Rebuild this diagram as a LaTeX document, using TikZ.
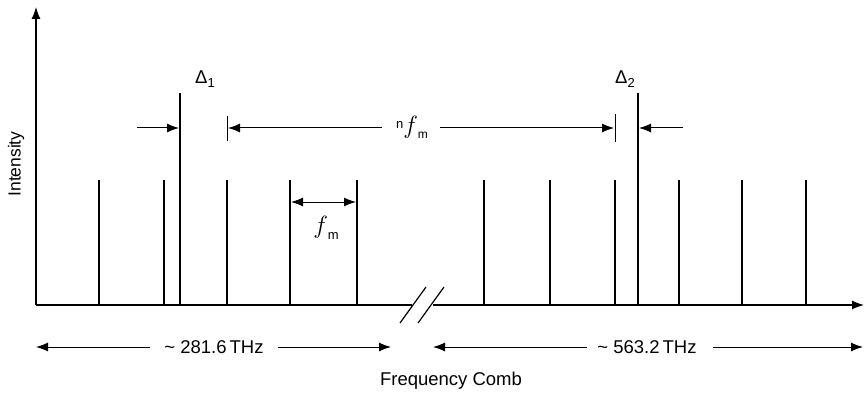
\documentclass[tikz,border=0pt]{standalone}
\usepackage{fontspec}
\setmainfont{Liberation Sans}
\usetikzlibrary{arrows.meta}
\begin{document}
\begin{tikzpicture}[x=1pt,y=-1pt,
  tooth/.style={line width=1.2pt},
  axis/.style={line width=1.2pt},
  dim/.style={line width=1pt},
  tip/.style={-{Latex[length=12pt,width=9pt]}},
  both/.style={{Latex[length=12pt,width=9pt]}-{Latex[length=12pt,width=9pt]}},
  lbl/.style={font=\fontsize{18.5}{22}\selectfont, inner sep=1pt},
]
\useasboundingbox (0,0) rectangle (865,393);
% axes
\coordinate (O) at (36,305);
\coordinate (Ytop) at (36,7);
\coordinate (Xbreak1) at (412,305);
\coordinate (Xbreak2) at (433,305);
\coordinate (Xend) at (864,305);
\draw[axis,tip] (O) -- (Ytop);
\draw[axis] (O) -- (Xbreak1);
\draw[axis,tip] (Xbreak2) -- (Xend);
\draw[axis] (400,323) -- (426,287);
\draw[axis] (418,323) -- (444,287);
% teeth
\foreach \x in {99,164,227,290,357,484,550,615,679,742,806}
  \draw[tooth] (\x,305) -- (\x,180);
\draw[tooth] (180,305) -- (180,93);
\draw[tooth] (638,305) -- (638,93);
% labels delta
\node[lbl] (d1) at (205,79) {Δ\raisebox{-4pt}{\fontsize{13}{15}\selectfont 1}};
\node[lbl] (d2) at (625,79) {Δ\raisebox{-4pt}{\fontsize{13}{15}\selectfont 2}};
% delta arrows
\coordinate (a1s) at (137,128);
\coordinate (a1e) at (179,128);
\draw[dim,tip] (a1s) -- (a1e);
\coordinate (a2s) at (683,128);
\coordinate (a2e) at (639,128);
\draw[dim,tip] (a2s) -- (a2e);
% n f_m arrow
\draw[dim] (227,116) -- (227,141);
\draw[dim] (615,114) -- (615,142);
\node[inner sep=0pt] (nfm) at (412,127) {\raisebox{5pt}{\fontsize{13}{15}\selectfont n}\fontsize{23}{25}\selectfont$f$\raisebox{-5pt}{\fontsize{12}{14}\selectfont m}};
\coordinate (nl) at (382,128);
\coordinate (nr) at (440,128);
\draw[dim,tip] (nl) -- (228,128);
\draw[dim,tip] (nr) -- (614,128);
% f_m arrow
\draw[dim,both] (291,202) -- (356,202);
\node[inner sep=0pt] (fm) at (326,228) {\fontsize{26}{28}\selectfont$f$\raisebox{-6pt}{\fontsize{13}{15}\selectfont m}};
% bottom ranges
\node[lbl] (r1) at (214,347) {\textasciitilde\ 281.6\,THz};
\draw[dim,tip] (150,347) -- (36,347);
\draw[dim,tip] (278,347) -- (391,347);
\node[lbl] (r2) at (647,347) {\textasciitilde\ 563.2\,THz};
\draw[dim,tip] (587,347) -- (433,347);
\draw[dim,tip] (713,347) -- (863,347);
\node[lbl] (fc) at (451,381) {Frequency Comb};
\node[lbl,rotate=90,font=\fontsize{17.5}{20}\selectfont] (int) at (16,164) {Intensity};
\end{tikzpicture}
\end{document}
